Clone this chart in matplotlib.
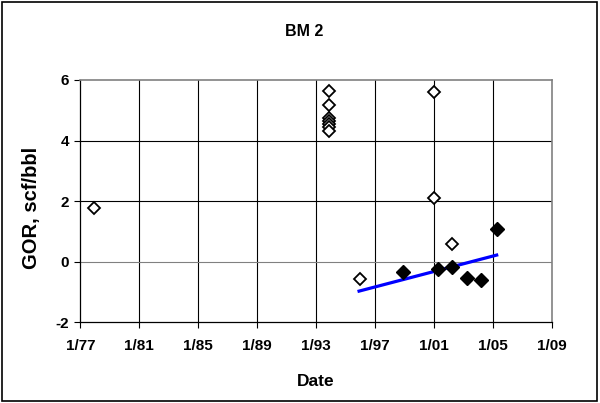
import matplotlib
matplotlib.use("Agg")
import matplotlib.pyplot as plt
from matplotlib.patches import Rectangle

plt.rcParams['font.family'] = ['Liberation Sans', 'DejaVu Sans']
plt.rcParams['font.weight'] = 'bold'
plt.rcParams['axes.unicode_minus'] = False

# open diamonds (decimal years, GOR)
open_x = [1977.93, 1993.86, 1993.86, 1993.86, 1993.86, 1993.86, 1993.86, 1993.86,
          1995.98, 2001.0, 2001.0, 2002.2]
open_y = [1.76, 5.64, 5.19, 4.75, 4.65, 4.55, 4.45, 4.32,
          -0.57, 5.6, 2.11, 0.57]
# filled diamonds
fill_x = [1998.9, 2001.23, 2002.2, 2003.2, 2004.2, 2005.23]
fill_y = [-0.35, -0.23, -0.16, -0.53, -0.6, 1.08]
# trend line ends
trend_x = [1995.9, 2005.23]
trend_y = [-0.97, 0.22]

tick_years = [1977, 1981, 1985, 1989, 1993, 1997, 2001, 2005, 2009]
tick_labels = ['1/77', '1/81', '1/85', '1/89', '1/93', '1/97', '1/01', '1/05', '1/09']
y_ticks = [-2, 0, 2, 4, 6]

fig = plt.figure(figsize=(6, 4.03), dpi=100)
ax = fig.add_axes([0.1338, 0.2002, 0.7867, 0.6013])

ax.set_xlim(1977, 2009)
ax.set_ylim(-2, 6)

# grid
for yr in tick_years[1:-1]:
    ax.axvline(yr, color='black', lw=0.8, zorder=1)
for v, c in [(2, 'black'), (4, 'black'), (0, '#808080')]:
    ax.axhline(v, color=c, lw=0.8, zorder=1)

ax.plot(trend_x, trend_y, color='#0000FF', lw=2.3, zorder=2)
ax.plot(open_x, open_y, 'D', ms=6, mfc='white', mec='black', mew=1.3, zorder=3)
ax.plot(fill_x, fill_y, 'D', ms=7, mfc='black', mec='black', zorder=4)

ax.set_xticks(tick_years)
ax.set_xticklabels(tick_labels)
ax.set_yticks(y_ticks)
ax.tick_params(direction='out', length=4, width=0.8, labelsize=11, pad=8)
ax.tick_params(axis='y', pad=4)

for s in ['top', 'right']:
    ax.spines[s].set_color('#808080')
    ax.spines[s].set_linewidth(1.2)
for s in ['left', 'bottom']:
    ax.spines[s].set_color('black')
    ax.spines[s].set_linewidth(0.9)

fig.text(315.5 / 600, 1 - 381.7 / 403, 'Date', ha='center', va='center',
         fontsize=12.5, fontweight='bold')
fig.text(31.7 / 600, 1 - 208 / 403, 'GOR, scf/bbl', ha='center', va='center',
         rotation=90, fontsize=14.5, fontweight='bold')
fig.text(304 / 600, 1 - 31.7 / 403, 'BM 2', ha='center', va='center',
         fontsize=11.5, fontweight='bold')

# outer frame
fig.patches.append(Rectangle((0.004, 0.005), 0.991, 0.99, transform=fig.transFigure,
                             fill=False, edgecolor='black', lw=1.2))

fig.savefig('out.png', dpi=100)
